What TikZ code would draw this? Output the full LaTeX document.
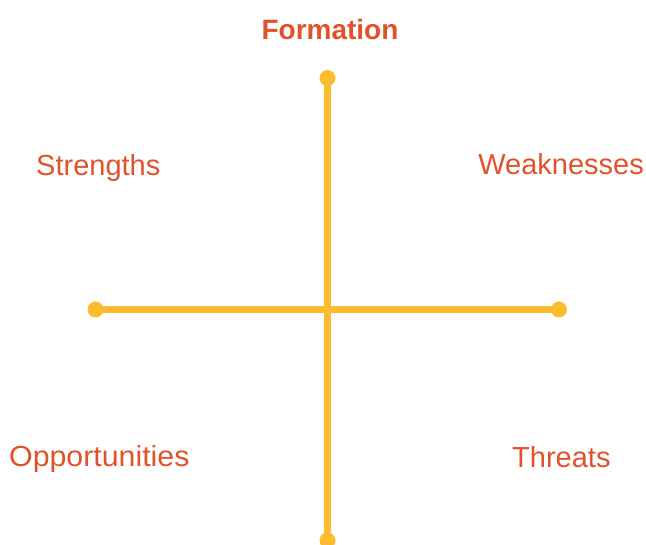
\documentclass[tikz,border=0pt]{standalone}
\usepackage{fontspec}
\setmainfont{Liberation Sans}
\usepackage{xcolor}
\usepackage{tikz}
\usetikzlibrary{positioning}
\definecolor{swotred}{RGB}{224,83,42}
\definecolor{swotyellow}{RGB}{251,188,45}

\begin{document}
\begin{tikzpicture}[
x=1pt,y=-1pt,
dot/.style={
  circle,
  fill=swotyellow,
  inner sep=0pt,
  minimum size=16pt
},
axis/.style={
  draw=swotyellow,
  line width=7pt
},
quad/.style={
  text=swotred,
  inner sep=0pt,
  font=\fontsize{29}{34}\selectfont
},
head/.style={
  text=swotred,
  inner sep=0pt,
  font=\fontsize{28}{33}\selectfont\bfseries
}
]
\useasboundingbox (0,0) rectangle (646,545);
\node[dot] (top) at (327.5,78) {};
\node[dot] (bottom) at (327.5,540.5) {};
\node[dot] (left) at (95.5,309.5) {};
\node[dot] (right) at (559,309.5) {};

\draw[axis] (top.center) -- (bottom.center);
\draw[axis] (left.center) -- (right.center);

\node[head,anchor=base] (formation) at (330,40) {Formation};
\node[quad,anchor=base west] (strengths) at (36,176) {Strengths};
\node[quad,anchor=base east] (weaknesses) at (644,175) {Weaknesses};
\node[quad,anchor=base west,font=\fontsize{29}{34}\selectfont\addfontfeature{FakeStretch=1.045}] (opportunities) at (9,467) {Opportunities};
\node[quad,anchor=base west] (threats) at (512,468) {Threats};
\end{tikzpicture}
\end{document}
